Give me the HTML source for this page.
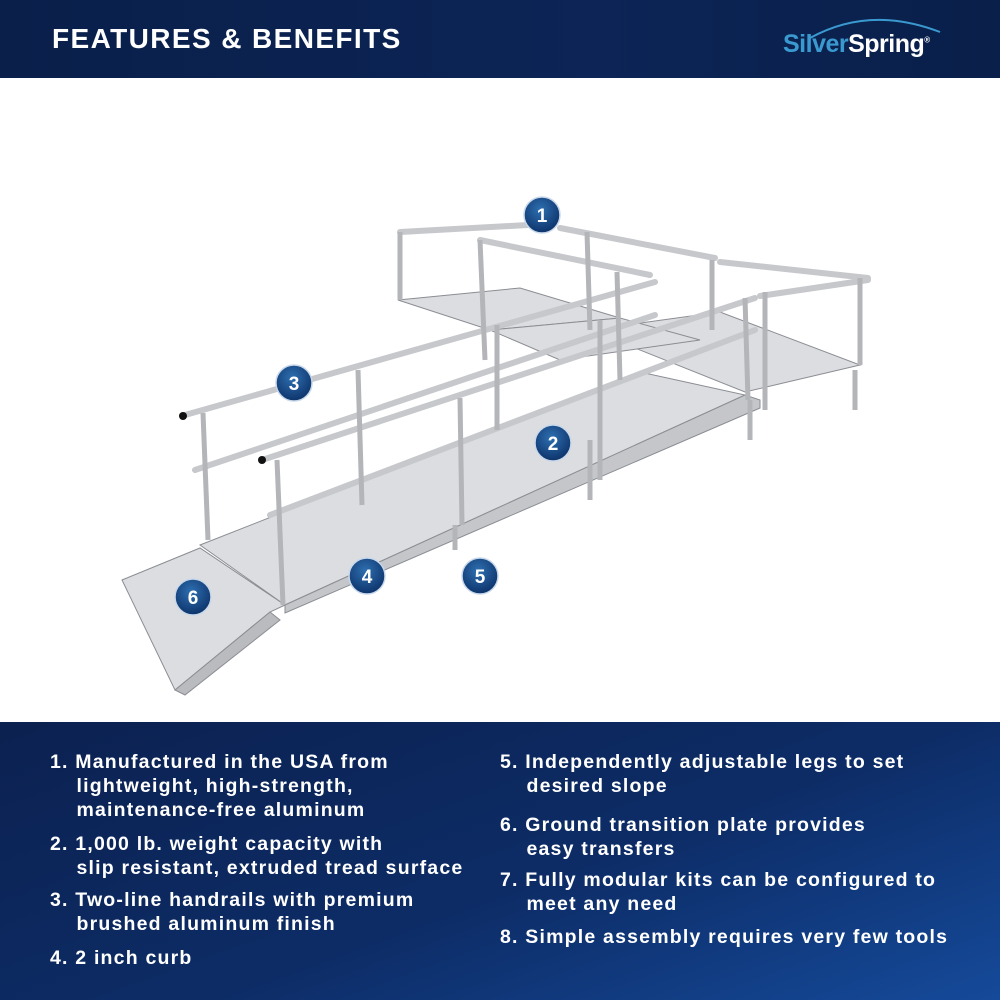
<!DOCTYPE html>
<html><head><meta charset="utf-8"><style>
body{margin:0;width:1000px;height:1000px;overflow:hidden;background:#fff;font-family:"Liberation Sans",sans-serif}
.hdr{position:absolute;left:0;top:0;width:1000px;height:78px;background:linear-gradient(90deg,#0a1f4a,#0c2556 60%,#0a1f4a)}
.hdr h1{position:absolute;left:52px;top:23px;margin:0;color:#fff;font-size:28px;font-weight:bold;letter-spacing:1.4px}
.logo{position:absolute;left:783px;top:30px;font-size:25px;font-weight:bold;color:#fff;letter-spacing:-0.5px}
.logo span{color:#3a9ad0}
.bot{position:absolute;left:0;top:722px;width:1000px;height:278px;background:linear-gradient(160deg,#0b2150 0%,#0d2c66 55%,#154a9a 100%)}
.t{position:absolute;color:#fff;font-size:19.5px;font-weight:bold;line-height:24px;white-space:nowrap;letter-spacing:1.2px}
</style></head><body>
<div class="hdr"><h1>FEATURES &amp; BENEFITS</h1>
<svg style="position:absolute;left:800px;top:10px" width="150" height="30"><path d="M10 28 Q70 -5 140 22" stroke="#3a9ad0" stroke-width="2" fill="none"/></svg>
<div class="logo"><span>Silver</span>Spring<sup style="font-size:8px">®</sup></div></div>

<svg style="position:absolute;left:0;top:78px" width="1000" height="644" viewBox="0 78 1000 644">
<defs><radialGradient id="b" cx="45%" cy="35%" r="70%"><stop offset="0" stop-color="#2e6fb0"/><stop offset="1" stop-color="#0b2f66"/></radialGradient></defs>
<g fill="#dcdde0" stroke="#8a8d93" stroke-width="1">
<polygon points="590,330 720,312 860,365 745,392"/>
<polygon points="398,300 520,288 620,318 490,330"/>
<polygon points="490,330 620,318 700,340 560,360"/>
<polygon points="200,545 640,372 745,395 285,605"/>
<polygon points="122,580 200,548 285,605 270,612 175,690"/>
<polygon points="175,690 270,612 280,620 185,695" fill="#b9bbbf"/>
<polygon points="285,605 745,395 760,400 760,408 285,613" fill="#c4c6ca"/>
</g>
<g stroke="#c6c8cc" stroke-width="6" fill="none" stroke-linecap="round">
<line x1="185" y1="415" x2="655" y2="282"/><line x1="195" y1="470" x2="655" y2="315"/>
<line x1="262" y1="460" x2="755" y2="298"/><line x1="270" y1="515" x2="755" y2="330"/>
<line x1="400" y1="232" x2="528" y2="225"/><line x1="560" y1="228" x2="715" y2="258"/>
<line x1="720" y1="262" x2="868" y2="278"/><line x1="760" y1="296" x2="868" y2="280"/>
<line x1="480" y1="240" x2="650" y2="275"/>
</g>
<g stroke="#b3b5b9" stroke-width="5">
<line x1="203" y1="413" x2="208" y2="540"/><line x1="277" y1="460" x2="283" y2="605"/>
<line x1="358" y1="370" x2="362" y2="505"/><line x1="460" y1="398" x2="462" y2="525"/>
<line x1="497" y1="325" x2="497" y2="430"/><line x1="600" y1="320" x2="600" y2="480"/>
<line x1="745" y1="298" x2="748" y2="400"/><line x1="765" y1="292" x2="765" y2="410"/>
<line x1="400" y1="232" x2="400" y2="300"/><line x1="480" y1="240" x2="485" y2="360"/>
<line x1="587" y1="232" x2="590" y2="330"/><line x1="712" y1="260" x2="712" y2="330"/>
<line x1="860" y1="278" x2="860" y2="365"/><line x1="617" y1="272" x2="620" y2="380"/>
<line x1="590" y1="440" x2="590" y2="500"/><line x1="750" y1="400" x2="750" y2="440"/><line x1="855" y1="370" x2="855" y2="410"/>
<line x1="455" y1="525" x2="455" y2="550"/>
</g>
<circle cx="183" cy="416" r="4" fill="#111"/><circle cx="262" cy="460" r="4" fill="#111"/>
<g fill="url(#b)" stroke="#c8d8ea" stroke-width="1.5">
<circle cx="542" cy="215" r="18"/><circle cx="553" cy="443" r="18"/><circle cx="294" cy="383" r="18"/>
<circle cx="367" cy="576" r="18"/><circle cx="480" cy="576" r="18"/><circle cx="193" cy="597" r="18"/>
</g>
<g fill="#fff" font-family="Liberation Sans" font-weight="bold" font-size="19" text-anchor="middle">
<text x="542" y="222">1</text><text x="553" y="450">2</text><text x="294" y="390">3</text>
<text x="367" y="583">4</text><text x="480" y="583">5</text><text x="193" y="604">6</text>
</g>
</svg>

<div class="bot"></div>
<div class="t" style="left:50px;top:750px">1. Manufactured in the USA from<br>&nbsp;&nbsp;&nbsp;&nbsp;lightweight, high-strength,<br>&nbsp;&nbsp;&nbsp;&nbsp;maintenance-free aluminum</div>
<div class="t" style="left:50px;top:832px">2. 1,000 lb. weight capacity with<br>&nbsp;&nbsp;&nbsp;&nbsp;slip resistant, extruded tread surface</div>
<div class="t" style="left:50px;top:888px">3. Two-line handrails with premium<br>&nbsp;&nbsp;&nbsp;&nbsp;brushed aluminum finish</div>
<div class="t" style="left:50px;top:946px">4. 2 inch curb</div>
<div class="t" style="left:500px;top:750px">5. Independently adjustable legs to set<br>&nbsp;&nbsp;&nbsp;&nbsp;desired slope</div>
<div class="t" style="left:500px;top:813px">6. Ground transition plate provides<br>&nbsp;&nbsp;&nbsp;&nbsp;easy transfers</div>
<div class="t" style="left:500px;top:868px">7. Fully modular kits can be configured to<br>&nbsp;&nbsp;&nbsp;&nbsp;meet any need</div>
<div class="t" style="left:500px;top:925px">8. Simple assembly requires very few tools</div>
</body></html>
